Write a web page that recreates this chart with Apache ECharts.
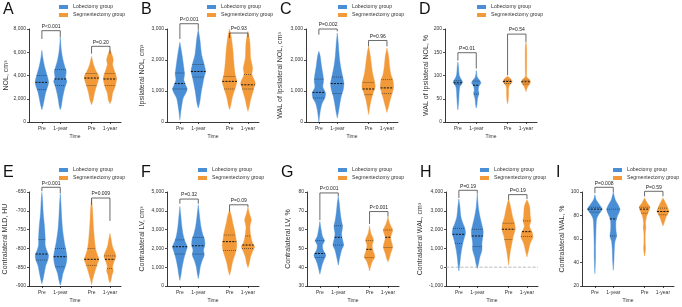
<!DOCTYPE html>
<html>
<head>
<meta charset="utf-8">
<script src="https://cdn.jsdelivr.net/npm/echarts@6/dist/echarts.min.js"></script>
<style>
  html, body { margin: 0; padding: 0; background: #fff; }
  #chart { width: 682px; height: 307px; }
</style>
</head>
<body>
<div id="chart"></div>
<script>
// groups, tick labels
const groups = ["Lobectomy group", "Segmentectomy group"];
const timeLabels = ["Pre", "1-year", "Pre", "1-year"];

// violin outlines: [value, relative density], order LobPre, Lob1y, SegPre, Seg1y
const violinA = [
  [[1060,0],[1490,4],[1920,7],[2350,10],[2780,14],[3070,18],[3500,20],[4070,15],[4790,8],[5500,3],[6160,0]],
  [[1060,0],[1350,3],[1920,6],[2490,10],[3070,15],[3500,20],[3790,16],[4360,18],[4640,15],[5360,8],[6220,3],[7310,0]],
  [[1490,0],[1920,5],[2490,9],[3010,14],[3350,18],[3790,22],[4070,20],[4360,14],[4930,6],[5650,0]],
  [[1580,0],[1920,5],[2490,8],[2920,14],[3350,18],[3790,20],[4360,14],[4930,8],[5360,10],[5790,6],[6220,0]]
];
const violinB = [
  [[75,0],[345,3],[560,6],[775,10],[935,18],[1065,22],[1200,17],[1365,12],[1530,14],[1740,12],[2060,8],[2330,4],[2570,0]],
  [[450,0],[610,4],[830,7],[1040,10],[1260,14],[1470,18],[1630,22],[1850,18],[2170,10],[2650,5],[2980,0]],
  [[400,0],[560,4],[775,8],[990,14],[1130,18],[1310,22],[1530,17],[1900,13],[2330,10],[2760,5],[3000,0]],
  [[345,0],[505,4],[720,8],[935,14],[1100,18],[1260,22],[1530,12],[1740,14],[2060,8],[2550,6],[2925,0]]
];
const violinC = [
  [[0,0],[180,2],[400,5],[610,10],[775,18],[935,20],[1130,12],[1310,14],[1470,13],[1795,8],[2120,4],[2280,0]],
  [[130,0],[345,4],[610,8],[830,12],[1040,18],[1260,20],[1470,16],[1795,10],[2120,6],[2550,3],[2870,0]],
  [[240,0],[505,4],[720,8],[935,14],[1130,20],[1310,18],[1580,12],[1900,8],[2225,4],[2440,0]],
  [[310,0],[505,5],[720,10],[935,16],[1130,20],[1345,18],[1530,12],[1795,8],[2120,5],[2390,0]]
];
const violinD = [
  [[26,0],[40,2],[51,3],[65,4],[76,6],[83,12],[86.5,14],[94,8],[101,4],[118,2],[129,0]],
  [[30,0],[37,2],[51,4],[62,8],[69,6],[77,8],[84,14],[90,10],[97,3],[111,0]],
  [[39,0],[47.5,2],[62,3],[72,3],[79,6],[86.5,14],[94,8],[98.6,0]],
  [[65,0],[72,3],[79,8],[86.5,14],[93,8],[98,2],[110,2],[160,2],[172,0]]
];
const violinE = [
  [[-894,0],[-880,4],[-862,8],[-845,12],[-831,18],[-818,20],[-804,14],[-791,10],[-773,10],[-742,8],[-706,4],[-670,2],[-651,0]],
  [[-898,0],[-885,4],[-867,8],[-849,15],[-840,18],[-822,20],[-800,16],[-782,12],[-751,7],[-715,4],[-679,2],[-654,0]],
  [[-896,0],[-880,4],[-862,10],[-845,16],[-829,22],[-818,18],[-800,12],[-769,8],[-733,5],[-697,3],[-669,0]],
  [[-892,0],[-885,3],[-871,6],[-860,10],[-849,8],[-836,12],[-822,18],[-813,16],[-796,8],[-778,4],[-760,0]]
];
const violinF = [
  [[300,0],[570,3],[930,6],[1290,10],[1590,14],[1820,18],[2090,22],[2450,14],[2710,10],[3160,6],[3700,3],[4230,0]],
  [[390,0],[660,3],[1020,6],[1375,12],[1640,18],[1910,16],[2180,20],[2540,18],[2710,14],[3160,8],[3700,4],[4320,0]],
  [[570,0],[840,4],[1200,8],[1550,14],[1910,20],[2180,22],[2450,20],[2890,16],[3340,10],[3700,6],[4050,0]],
  [[980,0],[1200,4],[1550,8],[1910,16],[2090,20],[2270,14],[2710,8],[3160,6],[3520,10],[3880,4],[4200,0]]
];
const violinG = [
  [[36.3,0],[39.3,4],[42,8],[44.6,14],[46.4,18],[49.1,10],[51.8,8],[54.1,14],[56.3,8],[59.8,4],[64.3,0]],
  [[41.1,0],[42.9,2],[45.5,5],[49.1,10],[51.8,16],[55.9,11],[58,10],[61.6,13],[64.3,10],[68.8,6],[74.1,3],[77.7,0]],
  [[38,0],[40.2,3],[42.9,8],[45.5,16],[49.1,10],[51.8,8],[54.5,12],[58,4],[62,0]],
  [[42.9,0],[44.6,4],[47.3,8],[50.9,14],[55.4,8],[57.1,10],[59.8,14],[63.4,5],[67,0]]
];
const violinH = [
  [[-200,0],[200,3],[550,5],[910,8],[1270,12],[1540,16],[1800,20],[2070,18],[2340,12],[2700,6],[3230,3],[3630,0]],
  [[-70,0],[200,4],[550,8],[910,14],[1270,14],[1540,16],[1890,18],[2250,14],[2700,8],[3230,3],[3950,0]],
  [[110,0],[550,3],[910,6],[1270,10],[1630,14],[2020,20],[2340,18],[2700,12],[3230,6],[3630,0]],
  [[550,0],[910,5],[1270,10],[1590,18],[1840,16],[2160,8],[2480,12],[2700,10],[3230,8],[3590,0]]
];
const violinI = [
  [[30.6,0],[36.3,1],[44.9,2],[53.4,2],[64.9,3],[73.4,4],[77.7,6],[82,14],[85.4,22],[89.1,14],[93.4,4],[97.7,0]],
  [[33.4,0],[42,2],[50.6,3],[57.7,5],[62.6,10],[67.7,8],[74.9,8],[79.1,12],[84.9,20],[88.3,16],[93.4,6],[99.7,0]],
  [[45.4,0],[49.1,2],[52,3],[56.3,2],[64.9,2],[70,4],[73.4,3],[79.1,6],[83.4,12],[87.1,16],[90.6,8],[94.9,0]],
  [[71.1,0],[74.9,5],[79.1,10],[83.4,18],[87.1,14],[90.6,8],[94.9,0]]
];

// quartiles [Q1, median, Q3]
const quartA = [[2780,3410,3990],[3125,3700,4500],[3150,3780,4160],[3125,3700,4160]];
const quartB = [[1065,1240,1580],[1450,1630,1850],[1065,1310,1470],[1065,1200,1530]];
const quartC = [[775,955,1385],[915,1240,1450],[880,1065,1280],[915,1100,1365]];
const quartD = [[81.5,84.4,88.6],[60,79,88],[83,87,90],[81.5,86.5,90]];
const quartE = [[-831,-815,-776],[-849,-822,-800],[-845,-829,-800],[-853,-829,-820]];
const quartF = [[1700,2090,2450],[1700,2140,2590],[1880,2360,2710],[2000,2180,2660]];
const quartG = [[45.2,47.3,54.1],[51.8,55.9,62],[45.2,49.5,54.1],[50.5,55.9,59.8]];
const quartH = [[1270,1750,2070],[1090,1660,2020],[1480,2020,2340],[1630,1890,2460]];
const quartI = [[82.9,85.4,87.1],[62.6,77.1,85.4],[82,85.4,87.1],[80.6,83.4,86.3]];

// comparison brackets [top, left end, right end] and p values
const bracketA = [[7855,7140,7310],[6510,5880,5880]];
const bracketB = [[3170,2680,2980],[2870,2710,2740]];
const bracketC = [[3000,2815,2925],[2630,2440,2440]];
const bracketD = [[149,132,115],[189,100.7,172]];
const bracketE = [[-637.5,-648,-653],[-666,-684,-727]];
const bracketF = [[4625,4375,4375],[4320,3965,4200]];
const bracketG = [[79.5,65,77.7],[69.6,63,67]];
const bracketH = [[4090,3680,3950],[3860,3590,3630]];
const bracketI = [[104,99,99.7],[100.6,96.3,96.3]];
const pA = ["P<0.001", "P=0.20"];
const pB = ["P<0.001", "P=0.93"];
const pC = ["P=0.002", "P=0.96"];
const pD = ["P=0.01", "P=0.54"];
const pE = ["P<0.001", "P=0.009"];
const pF = ["P=0.32", "P=0.09"];
const pG = ["P<0.001", "P<0.001"];
const pH = ["P=0.19", "P=0.19"];
const pI = ["P=0.008", "P=0.59"];

// layout
const FONT = "'Liberation Sans', Arial, sans-serif";
const colors = ["#4a8fd6", "#f29a3a"];
const xPos = [1, 2, 3.7, 4.7];
const densityScale = 0.018;
const gridW = 92;

const panels = [
  { letter: "A", yName: "NOL, cm\u00b3", min: 0, max: 8000, interval: 2000, left: 29, row: 0, nameGap: 18, legendLeft: 59, violins: violinA, quarts: quartA, brackets: bracketA, pvals: pA },
  { letter: "B", yName: "Ipsilateral NOL, cm\u00b3", min: 0, max: 3000, interval: 1000, left: 167, row: 0, nameGap: 21, legendLeft: 207, violins: violinB, quarts: quartB, brackets: bracketB, pvals: pB },
  { letter: "C", yName: "WAL of Ipsilateral NOL, cm\u00b3", min: 0, max: 3000, interval: 1000, left: 306, row: 0, nameGap: 22, legendLeft: 338, violins: violinC, quarts: quartC, brackets: bracketC, pvals: pC },
  { letter: "D", yName: "WAL of Ipsilateral NOL, %", min: 0, max: 200, interval: 50, left: 445, row: 0, nameGap: 14, legendLeft: 477, violins: violinD, quarts: quartD, brackets: bracketD, pvals: pD },
  { letter: "E", yName: "Contralateral MLD, HU", min: -900, max: -650, interval: 50, left: 29, row: 1, nameGap: 20, legendLeft: 59, violins: violinE, quarts: quartE, brackets: bracketE, pvals: pE },
  { letter: "F", yName: "Contralateral LV, cm\u00b3", min: 0, max: 5000, interval: 1000, left: 167, row: 1, nameGap: 21, legendLeft: 198, violins: violinF, quarts: quartF, brackets: bracketF, pvals: pF },
  { letter: "G", yName: "Contralateral LV, %", min: 30, max: 80, interval: 10, left: 307, row: 1, nameGap: 15, legendLeft: 338, violins: violinG, quarts: quartG, brackets: bracketG, pvals: pG },
  { letter: "H", yName: "Contralateral WAL, cm\u00b3", min: -1000, max: 4000, interval: 1000, left: 446, row: 1, nameGap: 22, legendLeft: 480, violins: violinH, quarts: quartH, brackets: bracketH, pvals: pH, zeroLine: true },
  { letter: "I", yName: "Contralateral WAL, %", min: 20, max: 100, interval: 20, left: 582, row: 1, nameGap: 16, legendLeft: 613, violins: violinI, quarts: quartI, brackets: bracketI, pvals: pI }
];
const rows = [
  { top: 29, height: 93, legendTop: 3, letterY: 2 },
  { top: 192, height: 94, legendTop: 166, letterY: 165 }
];

// half width of an outline at value v
function halfAt(prof, v) {
  for (let j = 1; j < prof.length; j++) {
    const [v0, d0] = prof[j - 1], [v1, d1] = prof[j];
    if (v >= v0 && v <= v1) return d0 + (d1 - d0) * (v - v0) / (v1 - v0);
  }
  return 0;
}

function renderViolin(violins, quarts, color) {
  return function (params, api) {
    const x = api.value(0);
    const k = api.value(1);
    const prof = violins[k];
    const pts = [];
    prof.forEach(([v, d]) => pts.push(api.coord([x + d * densityScale, v])));
    for (let j = prof.length - 1; j >= 0; j--) {
      pts.push(api.coord([x - prof[j][1] * densityScale, prof[j][0]]));
    }
    const children = [{
      type: "polygon",
      shape: { points: pts, smooth: 0.3 },
      style: { fill: color, stroke: color, lineWidth: 0.4 }
    }];
    quarts[k].forEach((v, m) => {
      const hw = halfAt(prof, v) * densityScale;
      const a = api.coord([x - hw, v]);
      const b = api.coord([x + hw, v]);
      children.push({
        type: "line",
        shape: { x1: a[0], y1: a[1], x2: b[0], y2: b[1] },
        style: m === 1
          ? { stroke: "#111", lineWidth: 1, lineDash: [2, 1.2] }
          : { stroke: "rgba(20,20,20,0.75)", lineWidth: 0.7, lineDash: [1, 1] }
      });
    });
    return { type: "group", children: children };
  };
}

function renderBracket(brackets, pvals) {
  return function (params, api) {
    const k = api.value(2);
    const [top, lEnd, rEnd] = brackets[k];
    const a = api.coord([api.value(0), lEnd]);
    const b = api.coord([api.value(0), top]);
    const c = api.coord([api.value(1), top]);
    const d = api.coord([api.value(1), rEnd]);
    return {
      type: "group",
      children: [
        { type: "polyline", shape: { points: [a, b, c, d] }, style: { stroke: "#444", lineWidth: 0.8, fill: null } },
        { type: "text", x: (b[0] + c[0]) / 2, y: b[1] - 1.5,
          style: { text: pvals[k], fontSize: 5, fill: "#222", align: "center", verticalAlign: "bottom", fontFamily: FONT } }
      ]
    };
  };
}

const chart = echarts.init(document.getElementById("chart"));

const grid = [], xAxis = [], yAxis = [], legend = [], series = [], graphic = [];

panels.forEach((p, i) => {
  const r = rows[p.row];
  grid.push({ left: p.left, top: r.top, width: gridW, height: r.height });
  xAxis.push({
    type: "value", gridIndex: i, min: 0.3, max: 5.3,
    name: "Time", nameLocation: "middle", nameGap: 12,
    nameTextStyle: { fontSize: 5, color: "#333", fontFamily: FONT },
    splitLine: { show: false },
    axisLine: { onZero: false, lineStyle: { color: "#222", width: 0.9 } },
    axisTick: { customValues: xPos, length: 2, lineStyle: { color: "#222", width: 0.8 } },
    axisLabel: {
      customValues: xPos, margin: 4, fontSize: 5, color: "#333", fontFamily: FONT,
      formatter: v => {
        const j = xPos.findIndex(q => Math.abs(q - v) < 0.01);
        return j < 0 ? "" : timeLabels[j];
      }
    }
  });
  yAxis.push({
    type: "value", gridIndex: i, min: p.min, max: p.max, interval: p.interval,
    name: p.yName, nameLocation: "middle", nameGap: p.nameGap,
    nameTextStyle: { fontSize: 7, color: "#333", fontFamily: FONT },
    splitLine: { show: false },
    axisLine: { show: true, onZero: false, lineStyle: { color: "#222", width: 0.9 } },
    axisTick: { show: true, length: 2, lineStyle: { color: "#222", width: 0.8 } },
    axisLabel: { fontSize: 5, margin: 3, color: "#333", fontFamily: FONT, formatter: v => v.toLocaleString("en-US") }
  });
  legend.push({
    data: groups, orient: "vertical", left: p.legendLeft, top: r.legendTop,
    icon: "rect", itemWidth: 9, itemHeight: 4, itemGap: 0, padding: 0, selectedMode: false,
    textStyle: { fontSize: 5.2, color: "#333", lineHeight: 8, fontFamily: FONT }
  });
  graphic.push({
    type: "text", left: p.left - 26, top: r.letterY,
    style: { text: p.letter, fontSize: 16, fill: "#111", fontFamily: FONT }
  });
  if (p.zeroLine) {
    series.push({
      type: "line", xAxisIndex: i, yAxisIndex: i, data: [[0.3, 0], [5.3, 0]],
      symbol: "none", silent: true, z: 1,
      lineStyle: { type: "dashed", color: "#aaa", width: 0.8 }
    });
  }
  groups.forEach((g, gi) => {
    series.push({
      type: "custom", name: g, xAxisIndex: i, yAxisIndex: i, silent: true, z: 2,
      itemStyle: { color: colors[gi] },
      renderItem: renderViolin(p.violins, p.quarts, colors[gi]),
      data: [[xPos[gi * 2], gi * 2], [xPos[gi * 2 + 1], gi * 2 + 1]]
    });
  });
  series.push({
    type: "custom", xAxisIndex: i, yAxisIndex: i, silent: true, z: 3,
    renderItem: renderBracket(p.brackets, p.pvals),
    data: [[xPos[0], xPos[1], 0], [xPos[2], xPos[3], 1]]
  });
});

chart.setOption({
  backgroundColor: "#fff",
  animation: false,
  textStyle: { fontFamily: FONT },
  grid: grid, xAxis: xAxis, yAxis: yAxis, legend: legend, graphic: graphic, series: series
});

window.addEventListener("resize", () => chart.resize());
</script>
</body>
</html>
